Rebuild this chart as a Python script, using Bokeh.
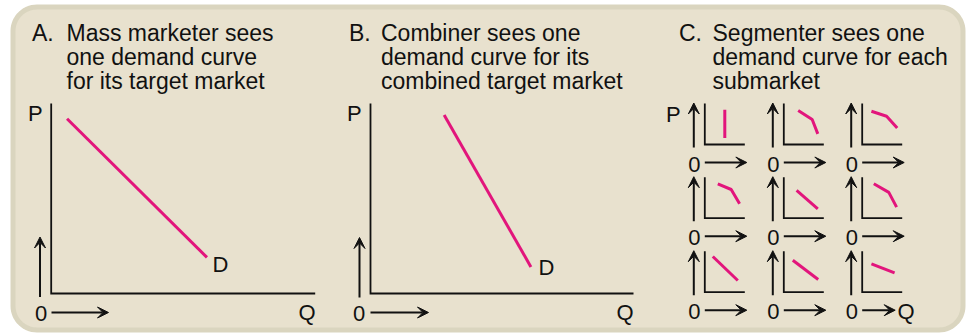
import numpy as np
from bokeh.plotting import figure
from bokeh.models import Range1d, Arrow, VeeHead
from bokeh.core.properties import value
from bokeh.embed import file_html
from bokeh.resources import INLINE

# ---------------- data ----------------
panel_letters = ["A.", "B.", "C."]
title_A = ["Mass marketer sees", "one demand curve", "for its target market"]
title_B = ["Combiner sees one", "demand curve for its", "combined target market"]
title_C = ["Segmenter sees one", "demand curve for each", "submarket"]
price_label = "P"
quantity_label = "Q"
origin_label = "0"
demand_label = "D"

# demand curves (quantity, price) in axis units 0..100
demand_A_q = [6, 59]
demand_A_p = [92, 19]
demand_B_q = [28, 61]
demand_B_p = [94, 14]

# nine submarket demand curves (axis units 0..10), row by row
sub_q = [[5.0, 5.0], [3.6, 7.1, 8.5], [2.3, 6.1, 8.75],
         [3.25, 6.6, 8.7], [3.2, 8.5], [2.9, 6.65, 8.6],
         [2.0, 8.25], [2.25, 8.6], [2.3, 8.1]]
sub_p = [[8.5, 1.6], [8.3, 6.1, 2.6], [8.1, 6.9, 4.0],
         [8.4, 7.0, 3.5], [6.8, 2.3], [8.4, 6.3, 2.7],
         [8.7, 2.85], [7.8, 3.1], [6.9, 4.7]]

# ---------------- styles / layout ----------------
FONT = value("Liberation Sans")
PINK = "#E2157C"
INK = "#111111"
BG = "#E8E1CE"
BORDER = "#DAD5BF"
TITLE_SIZE = 23.0
LABEL_SIZE = 22.0

X0, X1, Y0, Y1 = 0, 968, 0, 335  # page pixels covered by the figure

p = figure(width=X1 - X0, height=Y1 - Y0, x_range=Range1d(X0, X1), y_range=Range1d(Y1, Y0),
           output_backend="svg", toolbar_location=None, min_border=0,
           x_axis_type=None, y_axis_type=None)
p.outline_line_color = None
p.background_fill_color = "white"
p.border_fill_color = "white"


def xr(ox, w, span):
    k = span / w
    return Range1d(-(ox - X0) * k, span + (X1 - ox - w) * k)


def yr(oy, h, span):
    k = span / h
    return Range1d(-(Y1 - oy) * k, span + (oy - h - Y0) * k)


col_ox = [704.3, 783.3, 861.7]
row_oy = [144.0, 217.7, 291.7]
p.extra_x_ranges = {"A": xr(50.7, 264, 100), "B": xr(370, 263, 100),
                    "c0": xr(col_ox[0], 40, 10), "c1": xr(col_ox[1], 40, 10),
                    "c2": xr(col_ox[2], 40, 10)}
p.extra_y_ranges = {"AB": yr(293, 190, 100),
                    "r0": yr(row_oy[0], 41, 10), "r1": yr(row_oy[1], 41, 10),
                    "r2": yr(row_oy[2], 41, 10)}

# rounded panel background
def rounded_rect(x0, y0, x1, y1, r, n=16):
    xs, ys = [], []
    corners = [(x1 - r, y0 + r, -90, 0), (x1 - r, y1 - r, 0, 90),
               (x0 + r, y1 - r, 90, 180), (x0 + r, y0 + r, 180, 270)]
    for cx, cy, a0, a1 in corners:
        t = np.radians(np.linspace(a0, a1, n))
        xs.extend(cx + r * np.cos(t))
        ys.extend(cy + r * np.sin(t))
    return xs, ys

bx, by = rounded_rect(12.5, 6.5, 962.5, 329.5, 24)
p.patch(bx, by, fill_color=BG, line_color=BORDER, line_width=5)


def base(y, size):
    # correct for where the renderer puts the alphabetic baseline
    return y - 0.36 * size


# titles
def title(letter, lines, lx, tx):
    fs = f"{TITLE_SIZE}px"
    p.text(x=[lx], y=[base(40.7, TITLE_SIZE)], text=[letter], text_font=FONT,
           text_font_size=fs, text_baseline="alphabetic", text_align="left", text_color=INK)
    ys = [base(v, TITLE_SIZE) for v in (40.7, 64.7, 88.7)][:len(lines)]
    p.text(x=[tx] * len(lines), y=ys, text=lines, text_font=FONT, text_font_size=fs,
           text_baseline="alphabetic", text_align="left", text_color=INK)

title(panel_letters[0], title_A, 31.5, 66)
title(panel_letters[1], title_B, 348.5, 380.5)
title(panel_letters[2], title_C, 678.5, 712)

# big panels: axes + demand lines
for rn, q, pr in (("A", demand_A_q, demand_A_p), ("B", demand_B_q, demand_B_p)):
    p.line([0, 0, 100], [100, 0, 0], x_range_name=rn, y_range_name="AB",
           line_color=INK, line_width=1.8, line_join="miter")
    p.line(q, pr, x_range_name=rn, y_range_name="AB", line_color=PINK, line_width=3)

head = dict(size=11, fill_color=INK, line_color=INK, line_width=1)


def arrow(xs, ys, xe, ye):
    p.add_layout(Arrow(x_start=xs, y_start=ys, x_end=xe, y_end=ye,
                       line_color=INK, line_width=2, end=VeeHead(**head)))

def label(x, y, t):
    p.text(x=[x], y=[base(y, LABEL_SIZE)], text=[t], text_font=FONT,
           text_font_size=f"{LABEL_SIZE}px", text_baseline="alphabetic",
           text_align="left", text_color=INK)

# panel A decorations
arrow(39.5, 296.5, 39.5, 236.5)
arrow(51, 312, 108, 312)
label(27.5, 121, price_label)
label(212, 272, demand_label)
label(34.5, 321, origin_label)
label(298, 320, quantity_label)

# panel B decorations
arrow(359, 297, 359, 237)
arrow(370, 312, 428, 312)
label(346.5, 121, price_label)
label(538, 275, demand_label)
label(352.5, 321, origin_label)
label(616, 320, quantity_label)

# panel C: 3x3 small charts
label(665.5, 121.7, price_label)
for i in range(9):
    r, c = divmod(i, 3)
    p.line([0, 0, 10], [10, 0, 0], x_range_name=f"c{c}", y_range_name=f"r{r}",
           line_color=INK, line_width=1.8, line_join="miter")
    p.line(sub_q[i], sub_p[i], x_range_name=f"c{c}", y_range_name=f"r{r}",
           line_color=PINK, line_width=3)
    ox, oy = col_ox[c], row_oy[r]
    arrow(ox - 11, oy + 3, ox - 11, oy - 41.5)
    ay = oy + 18
    xe = ox + 33 if (r == 2 and c == 2) else ox + 42
    arrow(ox, ay, xe, ay)
    label(ox - 16.5, oy + 27.5, origin_label)
label(897, 318.5, quantity_label)

open("out.html", "w").write(file_html(p, INLINE))
